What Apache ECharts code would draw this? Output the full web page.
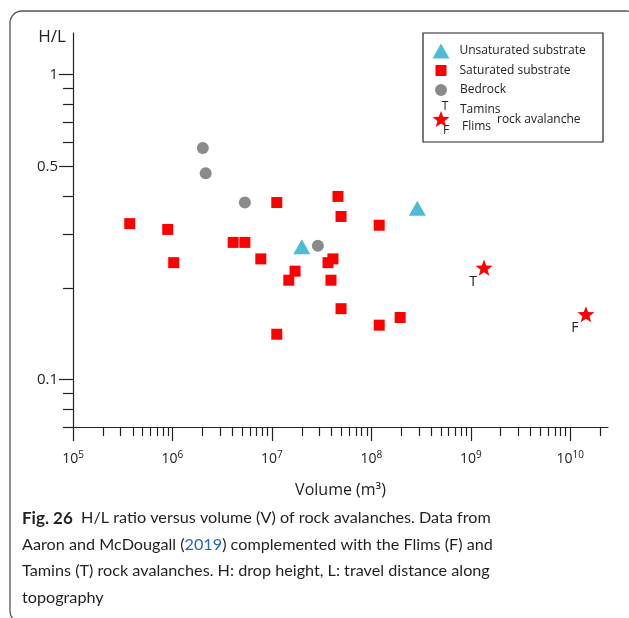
<!DOCTYPE html>
<html>
<head>
<meta charset="utf-8">
<script src="https://cdn.jsdelivr.net/npm/echarts@6/dist/echarts.min.js"></script>
<style>
  html, body { margin: 0; padding: 0; background: #fff; }
  #main { width: 629px; height: 618px; }
</style>
</head>
<body>
<div id="main"></div>
<script>
// data (volume in m3, H/L ratio)
var unsatVol = [2.0e7, 2.9e8];
var unsatHL = [0.273, 0.365];

var satVol = [3.72e5, 8.97e5, 1.03e6, 4.08e6, 5.35e6, 7.74e6, 1.12e7, 1.12e7, 1.48e7, 1.71e7,
              3.67e7, 4.11e7, 3.93e7, 4.62e7, 4.96e7, 4.96e7, 1.20e8, 1.20e8, 1.95e8];
var satHL = [0.325, 0.311, 0.242, 0.282, 0.282, 0.249, 0.381, 0.141, 0.212, 0.227,
             0.242, 0.249, 0.212, 0.399, 0.343, 0.171, 0.321, 0.151, 0.160];

var rockVol = [2.02e6, 2.16e6, 5.35e6, 2.9e7];
var rockHL = [0.575, 0.475, 0.381, 0.275];

var starNames = ['T', 'F'];
var starVol = [1.36e9, 1.44e10];
var starHL = [0.233, 0.164];

// tick values
var xMajor = [1e5, 1e6, 1e7, 1e8, 1e9, 1e10];
var xMinor = [];
for (var k = 5; k <= 10; k++) {
    for (var m = 2; m <= 9; m++) {
        if (m * Math.pow(10, k) <= 2.4e10) xMinor.push(m * Math.pow(10, k));
    }
}
var yLabels = [0.1, 0.5, 1];
var yMinor = [0.07, 0.08, 0.09, 0.2, 0.3, 0.4, 0.6, 0.7, 0.8, 0.9];

var chartDom = document.getElementById('main');
var myChart = echarts.init(chartDom);
var option;

function pairs(xs, ys) {
    var out = [];
    for (var i = 0; i < xs.length; i++) out.push([xs[i], ys[i]]);
    return out;
}

function starPath() {
    var pts = [];
    for (var i = 0; i < 10; i++) {
        var r = i % 2 ? 42 : 100;
        var a = Math.PI / 5 * i - Math.PI / 2;
        pts.push((100 + r * Math.cos(a)).toFixed(1) + ',' + (100 + r * Math.sin(a)).toFixed(1));
    }
    return 'path://M' + pts.join('L') + 'Z';
}
var STAR = starPath();

var font = '"Open Sans", sans-serif';
var capFont = 'Lato, sans-serif';

var starData = [];
for (var i = 0; i < starVol.length; i++) {
    starData.push({ name: starNames[i], value: [starVol[i], starHL[i]] });
}

option = {
    animation: false,
    textStyle: { fontFamily: font },
    grid: { left: 73, right: 21, top: 33, bottom: 191, outerBoundsMode: 'none' },
    xAxis: [
        {
            type: 'log', min: 1e5, max: 2.4e10, position: 'bottom',
            name: 'Volume (m³)', nameLocation: 'middle', nameGap: 55,
            nameTextStyle: { fontSize: 16, color: '#222', fontFamily: font },
            axisLine: { lineStyle: { color: '#222', width: 1.2 } },
            axisTick: { customValues: xMajor, length: 14, lineStyle: { color: '#222', width: 1.2 } },
            axisLabel: {
                customValues: xMajor, margin: 23, color: '#222',
                formatter: function (v) {
                    var e = Math.round(Math.log10(v));
                    return '{b|10}{s|' + e + '}';
                },
                rich: {
                    b: { fontSize: 14, color: '#222', fontFamily: font },
                    s: { fontSize: 10, color: '#222', fontFamily: font, verticalAlign: 'top', padding: [0, 0, 8, 0] }
                }
            },
            splitLine: { show: false }
        },
        {
            type: 'log', min: 1e5, max: 2.4e10, gridIndex: 0, position: 'bottom',
            axisLine: { show: false },
            axisTick: { customValues: xMinor, length: 9, lineStyle: { color: '#222', width: 1.2 } },
            axisLabel: { show: false },
            splitLine: { show: false }
        }
    ],
    yAxis: [
        {
            type: 'log', min: 0.07, max: 1.37, position: 'left',
            axisLine: { lineStyle: { color: '#222', width: 1.2 } },
            axisTick: { customValues: yLabels, length: 14, lineStyle: { color: '#222', width: 1.2 } },
            axisLabel: {
                customValues: yLabels, margin: 15, fontSize: 15, color: '#222',
                formatter: function (v) { return String(Math.round(v * 10) / 10); }
            },
            splitLine: { show: false }
        },
        {
            type: 'log', min: 0.07, max: 1.37, gridIndex: 0, position: 'left',
            axisLine: { show: false },
            axisTick: { customValues: yMinor, length: 10, lineStyle: { color: '#222', width: 1.2 } },
            axisLabel: { show: false },
            splitLine: { show: false }
        }
    ],
    legend: [
        {
            data: [{ name: 'Unsaturated substrate', icon: 'triangle' }],
            left: 432.5, top: 43.5, padding: 0, itemWidth: 17, itemHeight: 15,
            textStyle: { fontSize: 12, color: '#222', padding: [0, 0, 0, 5] }
        },
        {
            data: [{ name: 'Saturated substrate', icon: 'rect' }],
            left: 435.5, top: 64.5, padding: 0, itemWidth: 11, itemHeight: 11,
            textStyle: { fontSize: 12, color: '#222', padding: [0, 0, 0, 8] }
        },
        {
            data: [{ name: 'Bedrock', icon: 'circle' }],
            left: 435, top: 84, padding: 0, itemWidth: 12, itemHeight: 12,
            textStyle: { fontSize: 12, color: '#222', padding: [0, 0, 0, 8] }
        },
        {
            data: [{ name: 'rock avalanche', icon: STAR }],
            left: 432.5, top: 110.5, padding: 0, itemWidth: 17, itemHeight: 17,
            formatter: function () { return ''; }
        }
    ],
    series: [
        {
            name: 'Unsaturated substrate', type: 'scatter',
            symbol: 'triangle', symbolSize: [17, 15],
            itemStyle: { color: '#4cbcd8', opacity: 1 },
            data: pairs(unsatVol, unsatHL)
        },
        {
            name: 'Saturated substrate', type: 'scatter',
            symbol: 'rect', symbolSize: 11,
            itemStyle: { color: '#ff0000', opacity: 1 },
            data: pairs(satVol, satHL)
        },
        {
            name: 'Bedrock', type: 'scatter',
            symbol: 'circle', symbolSize: 12,
            itemStyle: { color: '#8a8a8a', opacity: 1 },
            data: pairs(rockVol, rockHL)
        },
        {
            name: 'rock avalanche', type: 'scatter',
            symbol: STAR, symbolSize: 17, symbolKeepAspect: true,
            itemStyle: { color: '#ff0000', opacity: 1 },
            label: {
                show: true, position: 'inside', offset: [-11, 14],
                formatter: '{b}', fontSize: 14, color: '#222', fontFamily: font
            },
            data: starData
        }
    ],
    graphic: [
        {
            type: 'rect', silent: true,
            shape: { x: 10, y: 11, width: 628, height: 612, r: 12 },
            style: { fill: 'none', stroke: '#555', lineWidth: 1.3 }
        },
        {
            type: 'rect', silent: true,
            shape: { x: 423, y: 33, width: 180, height: 109 },
            style: { fill: 'none', stroke: '#222', lineWidth: 1.2 }
        },
        { type: 'text', x: 52, y: 37, style: { text: 'H/L', font: '17px "Open Sans", sans-serif', fill: '#222', align: 'center', verticalAlign: 'middle' } },
        { type: 'text', x: 445, y: 107, style: { text: 'T', font: '12px "Open Sans", sans-serif', fill: '#222', align: 'center', verticalAlign: 'middle' } },
        { type: 'text', x: 446, y: 131, style: { text: 'F', font: '12px "Open Sans", sans-serif', fill: '#222', align: 'center', verticalAlign: 'middle' } },
        { type: 'text', x: 460, y: 110, style: { text: 'Tamins', font: '12px "Open Sans", sans-serif', fill: '#222', align: 'left', verticalAlign: 'middle' } },
        { type: 'text', x: 462, y: 127, style: { text: 'Flims', font: '12px "Open Sans", sans-serif', fill: '#222', align: 'left', verticalAlign: 'middle' } },
        { type: 'text', x: 497, y: 120, style: { text: 'rock avalanche', font: '12px "Open Sans", sans-serif', fill: '#222', align: 'left', verticalAlign: 'middle' } },
        {
            type: 'text', x: 22, y: 505,
            style: {
                text: '{b|Fig. 26}  H/L ratio versus volume (V) of rock avalanches. Data from\n' +
                      'Aaron and McDougall ({l|2019}) complemented with the Flims (F) and\n' +
                      'Tamins (T) rock avalanches. H: drop height, L: travel distance along\n' +
                      'topography',
                fontFamily: capFont,
                fontSize: 16.2, lineHeight: 26.5, fill: '#231f20',
                rich: {
                    b: { fontWeight: 'bold', fontSize: 17, lineHeight: 26.5, fontFamily: capFont, fill: '#231f20' },
                    l: { fontSize: 16.2, lineHeight: 26.5, fontFamily: capFont, fill: '#1f66c7' }
                }
            }
        }
    ]
};

option && myChart.setOption(option);
</script>
</body>
</html>
